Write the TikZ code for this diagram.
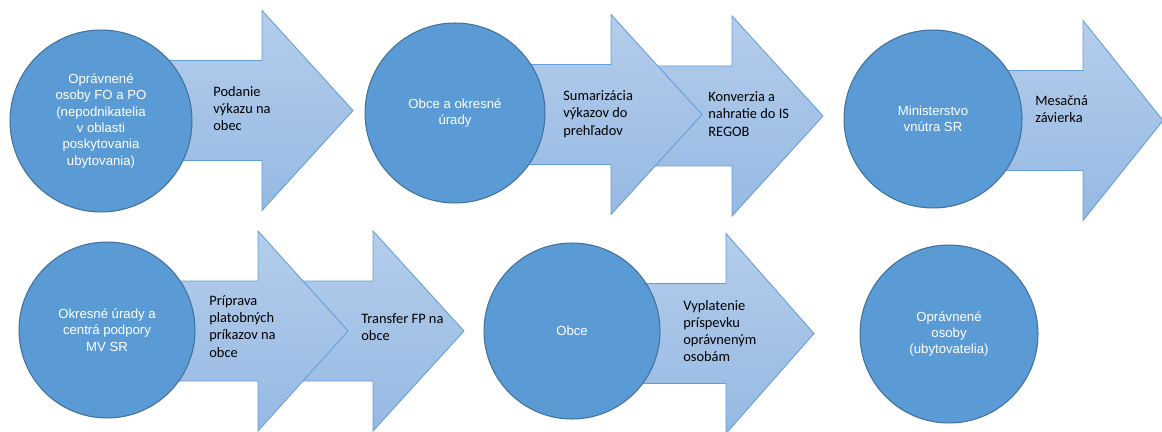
\documentclass[tikz,border=0pt]{standalone}
\usepackage{fontspec}
\setmainfont{Carlito}
\newfontfamily\circfont{Liberation Sans}
\definecolor{circfill}{RGB}{91,155,213}
\definecolor{circline}{RGB}{65,113,156}
\definecolor{arrowtop}{RGB}{180,205,235}
\definecolor{arrowbot}{RGB}{150,185,227}
\definecolor{arrowline}{RGB}{100,158,214}
\tikzset{
  stage/.style={circle, draw=circline, fill=circfill, line width=0.6pt,
    minimum size=3.6cm, inner sep=0pt, align=center, text=white,
    font=\circfont\fontsize{7.5}{9.3}\selectfont},
  flow/.style={draw=arrowline, line width=0.5pt, top color=arrowtop, bottom color=arrowbot},
  note/.style={anchor=west, inner sep=0pt, align=left, font=\fontsize{8.2}{9.8}\selectfont}
}
% start x, base of head, tip, middle y
\newcommand{\flowarrow}[4]{%
  \draw[flow] (#1,#4-50) -- (#2,#4-50) -- (#2,#4-100) -- (#3,#4)
    -- (#2,#4+100) -- (#2,#4+50) -- (#1,#4+50) -- cycle;}
\begin{document}
\begin{tikzpicture}[x=0.02cm, y=-0.02cm]
  \useasboundingbox (0,0) rectangle (1162,432);
  \clip (0,0) rectangle (1162,432);
  % first row
  \flowarrow{101}{262}{353}{110.5}
  \flowarrow{611}{732}{823}{116}
  \flowarrow{455}{611}{702}{114.5}
  \flowarrow{933}{1083}{1163}{120.5}
  \node [stage, minimum size=3.64cm] (opravnene) at (101,121) {Oprávnené\\osoby FO a PO\\(nepodnikatelia\\v oblasti\\poskytovania\\ubytovania)};
  \node [stage] (obce) at (455,113) {Obce a okresné\\úrady};
  \node [stage, minimum size=3.56cm] (ministerstvo) at (933,119) {Ministerstvo\\vnútra SR};
  \node [note] (podanie) at (213,108.5) {Podanie\\výkazu na\\obec};
  \node [note] (sumarizacia) at (563,114) {Sumarizácia\\výkazov do\\prehľadov};
  \node [note] (konverzia) at (708,114) {Konverzia a\\nahratie do IS\\REGOB};
  \node [note] (zavierka) at (1035,109) {Mesačná\\závierka};
  % second row
  \flowarrow{258}{373}{464}{331}
  \flowarrow{107}{258}{348}{331}
  \flowarrow{572}{726}{814}{333.5}
  \node [stage, minimum size=3.52cm] (okresne) at (107,330) {Okresné úrady a\\centrá podpory\\MV SR};
  \node [stage, minimum size=3.52cm] (obce2) at (572,331) {Obce};
  \node [stage, minimum size=3.56cm] (ubytovatelia) at (949,334) {Oprávnené\\osoby\\(ubytovatelia)};
  \node [note] (priprava) at (209,326.5) {Príprava\\platobných\\príkazov na\\obce};
  \node [note] (transfer) at (361,327) {Transfer FP na\\obce};
  \node [note] (vyplatenie) at (683,331) {Vyplatenie\\príspevku\\oprávneným\\osobám};
\end{tikzpicture}
\end{document}
